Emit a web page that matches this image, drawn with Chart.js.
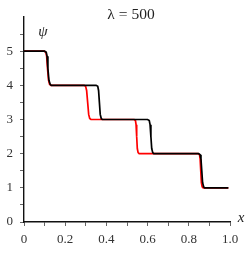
<!DOCTYPE html>
<html>
<head>
<meta charset="utf-8">
<script src="https://cdn.jsdelivr.net/npm/chart.js@4"></script>
<style>
  body { margin: 0; background: #fff; }
  #wrap { width: 252px; height: 255px; }
</style>
</head>
<body>
<div id="wrap"><canvas id="myChart"></canvas></div>
<script>
// black curve
const blackX = [0, 0.100, 0.108, 0.112, 0.116, 0.121, 0.127, 0.133, 0.350, 0.358, 0.362, 0.366, 0.370, 0.375, 0.380, 0.600, 0.608, 0.612, 0.616, 0.620, 0.625, 0.630, 0.848, 0.855, 0.859, 0.863, 0.867, 0.872, 0.877, 0.992];
const blackY = [5, 5, 4.97, 4.85, 4.5, 4.15, 4.03, 4, 4, 3.97, 3.85, 3.5, 3.15, 3.03, 3, 3, 2.97, 2.85, 2.5, 2.15, 2.03, 2, 2, 1.97, 1.85, 1.5, 1.15, 1.03, 1, 1];
// red curve
const redX = [0, 0.098, 0.106, 0.110, 0.114, 0.119, 0.124, 0.130, 0.292, 0.299, 0.304, 0.309, 0.314, 0.319, 0.325, 0.535, 0.541, 0.544, 0.547, 0.550, 0.554, 0.559, 0.845, 0.852, 0.855, 0.858, 0.861, 0.865, 0.870, 0.992];
const redY = [5, 5, 4.97, 4.85, 4.5, 4.15, 4.03, 4, 4, 3.97, 3.85, 3.5, 3.15, 3.03, 3, 3, 2.97, 2.85, 2.5, 2.15, 2.03, 2, 2, 1.97, 1.85, 1.5, 1.15, 1.03, 1, 1];
const xTickLabels = ['0', '', '0.2', '', '0.4', '', '0.6', '', '0.8', '', '1.0'];
const yTickLabels = ['0', '1', '2', '3', '4', '5'];

function toPoints(xs, ys) {
    let pts = new Array();
    for (let i = 0; i < xs.length; i++) {
        pts.push({ x: xs[i], y: ys[i] });
    }
    return pts;
}

const serif = "'Liberation Serif', 'DejaVu Serif', serif";

// title and axis names
const textPlugin = {
    id: 'texts',
    afterDraw(chart) {
        const c = chart.ctx;
        c.save();
        c.fillStyle = '#222';
        c.textAlign = 'center';
        c.textBaseline = 'middle';
        c.font = '15.5px ' + serif;
        c.fillText('λ = 500', 131, 15);
        c.font = 'italic 15px ' + serif;
        c.fillText('ψ', 43, 32);
        c.fillText('x', 241, 218);
        c.restore();
    }
};

const ctx = document.getElementById('myChart');
const myChart = new Chart(ctx, {
    type: 'scatter',
    data: {
        datasets: [{
            data: toPoints(blackX, blackY),
            showLine: true,
            borderColor: '#000',
            borderWidth: 1.7,
            pointRadius: 0,
            tension: 0
        }, {
            data: toPoints(redX, redY),
            showLine: true,
            borderColor: '#ff0000',
            borderWidth: 1.7,
            pointRadius: 0,
            tension: 0
        }]
    },
    options: {
        responsive: true,
        maintainAspectRatio: false,
        animation: false,
        layout: { padding: { top: 17, right: 22, left: 0, bottom: 0 } },
        plugins: {
            legend: { display: false },
            tooltip: { enabled: false }
        },
        scales: {
            x: {
                min: 0,
                max: 1,
                afterFit: function (scale) { scale.height = 33; },
                border: { display: true, color: '#111', width: 1.4 },
                grid: { drawOnChartArea: false, drawTicks: true, tickLength: 4, color: '#666' },
                ticks: {
                    stepSize: 0.1,
                    autoSkip: false,
                    maxRotation: 0,
                    padding: 6,
                    color: '#333',
                    font: { family: serif, size: 13 },
                    callback: function (v, i) { return xTickLabels[i]; }
                }
            },
            y: {
                min: 0,
                max: 6,
                afterFit: function (scale) { scale.width = 24; },
                afterBuildTicks: function (scale) {
                    scale.ticks = scale.ticks.filter(t => t.value < 6);
                },
                border: { display: true, color: '#111', width: 1.4 },
                grid: { drawOnChartArea: false, drawTicks: true, tickLength: 4, color: '#666' },
                ticks: {
                    stepSize: 0.5,
                    autoSkip: false,
                    padding: 7,
                    color: '#333',
                    font: { family: serif, size: 13 },
                    callback: function (v) {
                        return Number.isInteger(v) ? yTickLabels[v] : '';
                    }
                }
            }
        }
    },
    plugins: [textPlugin]
});
</script>
</body>
</html>
